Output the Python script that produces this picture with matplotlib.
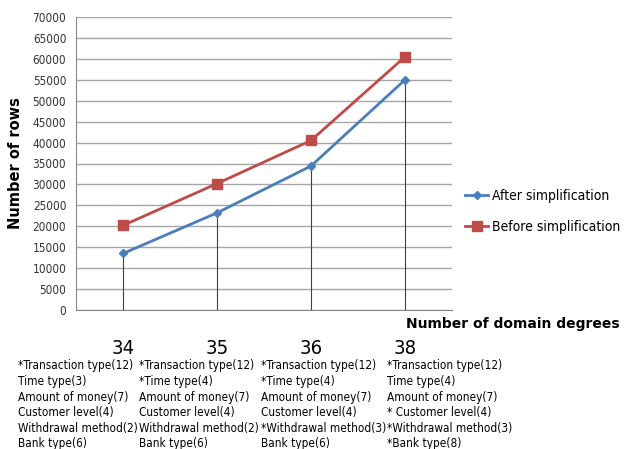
import matplotlib.pyplot as plt

# data
degrees = ['34', '35', '36', '38']
after_rows = [13500, 23200, 34400, 55000]
before_rows = [20200, 30200, 40500, 60500]
descriptions = [
    ['*Transaction type(12)', 'Time type(3)', 'Amount of money(7)',
     'Customer level(4)', 'Withdrawal method(2)', 'Bank type(6)'],
    ['*Transaction type(12)', '*Time type(4)', 'Amount of money(7)',
     'Customer level(4)', 'Withdrawal method(2)', 'Bank type(6)'],
    ['*Transaction type(12)', '*Time type(4)', 'Amount of money(7)',
     'Customer level(4)', '*Withdrawal method(3)', 'Bank type(6)'],
    ['*Transaction type(12)', 'Time type(4)', 'Amount of money(7)',
     '* Customer level(4)', '*Withdrawal method(3)', '*Bank type(8)'],
]
desc_left = [18, 139, 261, 387]

fig = plt.figure(figsize=(6.32, 4.49), dpi=100)
ax = fig.add_axes([76 / 632, 1 - 310 / 449, 376 / 632, 293 / 449])

x = range(len(degrees))

# drop lines from the lower series to the axis
for i in x:
    ax.plot([i, i], [0, after_rows[i]], color='#404040', lw=0.8, zorder=1)

ax.plot(x, after_rows, color='#4a7ebb', lw=2, marker='D', markersize=4,
        label='After simplification', zorder=3)
ax.plot(x, before_rows, color='#be4b48', lw=2, marker='s', markersize=7,
        label='Before simplification', zorder=3)

ax.set_xlim(-0.5, 3.5)
ax.set_ylim(0, 70000)
ax.set_yticks(range(0, 70001, 5000))
ax.set_xticks([])
ax.tick_params(axis='y', length=0, labelsize=8.5, colors='#333333', pad=7)
for lbl in ax.get_yticklabels():
    lbl.set_fontstretch('condensed')
ax.grid(axis='y', color='#a6a6a6', lw=1)
ax.set_axisbelow(True)
for side in ['top', 'right']:
    ax.spines[side].set_visible(False)
ax.spines['left'].set_color('#888888')
ax.spines['bottom'].set_color('#888888')

ax.set_ylabel('Number of rows', fontsize=10.5, fontweight='bold', labelpad=7)

ax.legend(loc='center left', bbox_to_anchor=(1.01, 0.336), frameon=False,
          prop={'size': 10, 'stretch': 'condensed'},
          handlelength=1.6, handletextpad=0.3, labelspacing=1.2,
          borderaxespad=0.3)

fig.text(620 / 632, 1 - 324 / 449, 'Number of domain degrees', ha='right',
         va='center', fontsize=10, fontweight='bold')

for i, deg in enumerate(degrees):
    cx = (i + 0.5) / 4 * 376 + 76
    fig.text(cx / 632, 1 - 348 / 449, deg, ha='center', va='center', fontsize=14.5,
             fontstretch='condensed')
    for j, line in enumerate(descriptions[i]):
        fig.text(desc_left[i] / 632, 1 - (366 + j * 15.6) / 449, line,
                 ha='left', va='center', fontsize=8.5, fontweight='normal',
                 fontstretch='condensed', color='black')

fig.savefig('out.png', dpi=100)
